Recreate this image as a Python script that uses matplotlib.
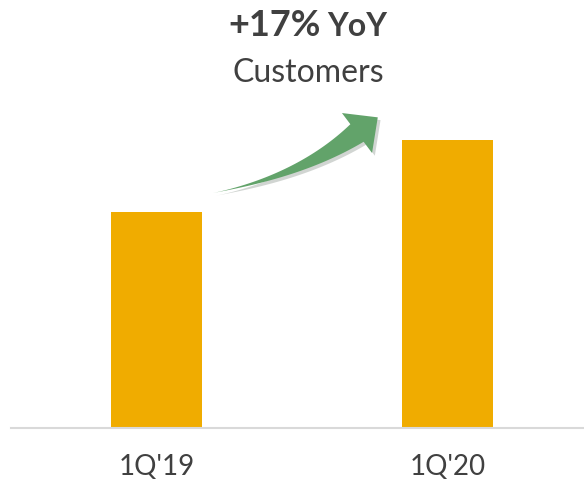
import numpy as np
import matplotlib.pyplot as plt
from matplotlib.patches import Polygon
import matplotlib.patheffects as pe

# customer index (1Q'19 = 100), +17% YoY
quarters = ["1Q'19", "1Q'20"]
customers = [100, 117]

W, H = 584, 484
plt.rcParams['font.family'] = ['Lato', 'DejaVu Sans']

fig = plt.figure(figsize=(W / 100, H / 100), dpi=100)


def fx(px):
    return px / W


def fy(py):
    # pixel measured from the top
    return 1 - py / H


ax = fig.add_axes([fx(11), fy(428), fx(573), 428 / H])
ax.bar(range(len(quarters)), customers, width=0.313, color='#F0AC00')
ax.set_xlim(-0.5, 1.469)
ax.set_ylim(49, 150.1)

for side in ['top', 'left', 'right']:
    ax.spines[side].set_visible(False)
ax.spines['bottom'].set_color('#D9D9D9')
ax.spines['bottom'].set_linewidth(1.5)
ax.set_yticks([])
ax.set_xticks(range(len(quarters)))
ax.set_xticklabels(quarters, fontsize=20, color='#404040')
ax.tick_params(axis='x', length=0, pad=19)

# headline
fig.text(fx(228), fy(36), "+17%", fontsize=26, fontweight='bold', color='#404040',
         ha='left', va='baseline')
fig.text(fx(327), fy(36), "YoY", fontsize=23, fontweight='bold', color='#404040',
         ha='left', va='baseline')
fig.text(fx(308), fy(82), "Customers", fontsize=23, color='#404040',
         ha='center', va='baseline')

# growth arrow: tapered curved shaft (quadratic bezier) plus a triangular head
p0 = np.array([213.0, 193.0])
c = np.array([300.0, 176.0])
p2 = np.array([357.0, 133.0])
t = np.linspace(0, 1, 60)[:, None]
pts = (1 - t) ** 2 * p0 + 2 * (1 - t) * t * c + t ** 2 * p2
d = 2 * (1 - t) * (c - p0) + 2 * t * (p2 - c)
d = d / np.linalg.norm(d, axis=1, keepdims=True)
n = np.column_stack([d[:, 1], -d[:, 0]])
w = 11 * t ** 1.5
upper = pts + n * w
lower = pts - n * w
u, nn = d[-1], n[-1]
tip = p2 + 26 * u
head = [p2 + 25 * nn, tip, p2 - 25 * nn]
outline = np.vstack([upper, head, lower[::-1]])
outline = np.column_stack([outline[:, 0] / W, 1 - outline[:, 1] / H])
arrow = Polygon(outline, closed=True, transform=fig.transFigure,
                facecolor='#62A36A', edgecolor='none')
arrow.set_path_effects([pe.SimplePatchShadow(offset=(2, -2), alpha=0.2),
                        pe.Normal()])
fig.add_artist(arrow)

fig.savefig('out.png', dpi=100)
